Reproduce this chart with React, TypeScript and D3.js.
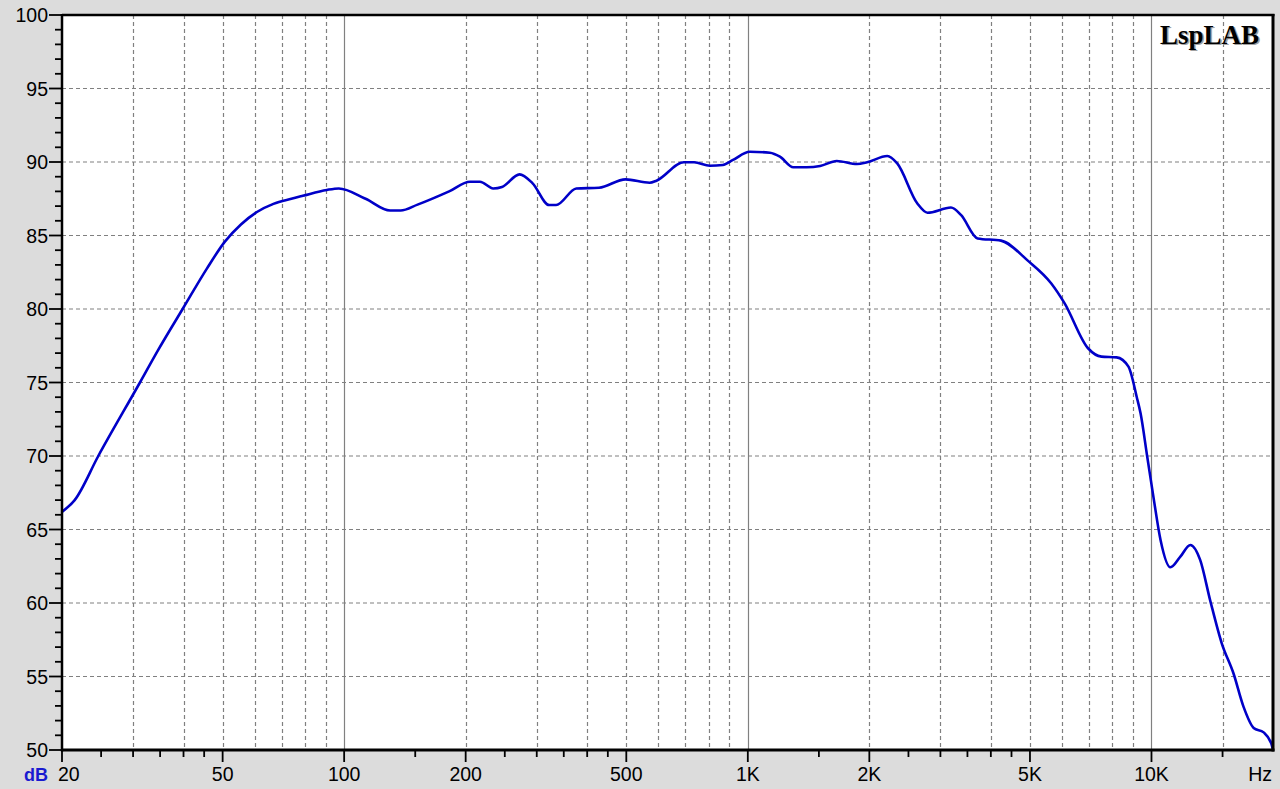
import React from "react";
import * as d3 from "d3";

const FREQ = [20, 21.5, 24.6, 31.2, 34.6, 39.9, 45.7, 50.7, 55.5, 60.8, 66.8, 74, 79, 90.6, 97, 113, 130, 138, 152, 182, 205, 217, 234, 246, 272, 293, 322, 335, 376, 428, 498, 571, 594, 694, 736, 805, 867, 919, 1011, 1134, 1201, 1296, 1399, 1511, 1661, 1864, 1975, 2216, 2345, 2628, 2786, 3186, 3373, 3709, 4239, 4938, 5641, 6088, 6963, 7516, 8196, 8769, 9196, 9396, 9761, 10140, 10530, 11140, 11790, 12480, 13200, 13970, 14930, 15960, 16900, 17910, 18960, 19800, 20000];
const SPL = [66.2, 67.0, 70.0, 75.0, 77.2, 80.05, 82.75, 84.6, 85.75, 86.6, 87.15, 87.5, 87.7, 88.1, 88.2, 87.5, 86.7, 86.7, 87.1, 88.0, 88.66, 88.66, 88.2, 88.3, 89.16, 88.55, 87.07, 87.07, 88.2, 88.25, 88.82, 88.59, 88.73, 89.98, 89.98, 89.75, 89.8, 90.14, 90.7, 90.63, 90.36, 89.64, 89.64, 89.73, 90.07, 89.86, 89.98, 90.41, 89.9, 87.19, 86.55, 86.9, 86.4, 84.8, 84.65, 83.29, 81.75, 80.4, 77.33, 76.76, 76.71, 76.08, 74.0, 72.9, 69.95, 67.0, 64.29, 62.43, 63.15, 63.95, 62.93, 60.2, 57.26, 55.22, 52.95, 51.5, 51.2, 50.45, 50.0];

const X_LABEL_VALUES = [20, 50, 100, 200, 500, 1000, 2000, 5000, 10000];
const X_LABELS = ["20", "50", "100", "200", "500", "1K", "2K", "5K", "10K"];
const X_MINOR_TICKS = [25, 30, 35, 40, 45, 150, 250, 300, 350, 400, 450, 1500, 2500, 3000, 3500, 4000, 4500, 15000];
const X_GRID_DASHED = [30, 40, 50, 60, 70, 80, 90, 200, 300, 400, 500, 600, 700, 800, 900, 2000, 3000, 4000, 5000, 6000, 7000, 8000, 9000, 15000];
const X_GRID_SOLID = [100, 1000, 10000];
const Y_MAJOR = [50, 55, 60, 65, 70, 75, 80, 85, 90, 95, 100];
const Y_MINOR = d3.range(50, 101, 1);

const W = 1280;
const H = 789;
const L = 62;
const R = 1273;
const T = 15;
const B = 750;

export default function App() {
  const x = d3.scaleLog().domain([20, 20000]).range([L, R]);
  const y = d3.scaleLinear().domain([50, 100]).range([B, T]);
  const pts: [number, number][] = FREQ.map((f, i) => [x(f), y(SPL[i])]);
  const line = d3.line().curve(d3.curveMonotoneX)(pts) || "";
  const font = "'Liberation Sans', Arial, sans-serif";
  const grid = "#808080";
  const serif = "'Liberation Serif', 'Times New Roman', serif";

  return (
    <svg
      width={W}
      height={H}
      style={{ position: "fixed", left: 0, top: 0, display: "block" }}
    >
      <rect x={0} y={0} width={W} height={H} fill="#dcdcdc" />
      <rect x={L} y={T} width={R - L} height={B - T} fill="#ffffff" />
      <defs>
        <clipPath id="plot">
          <rect x={L} y={T} width={R - L} height={B - T} />
        </clipPath>
      </defs>
      {Y_MAJOR.filter((v) => v > 50 && v < 100).map((v) => (
        <line key={"hg" + v} x1={L} x2={R} y1={y(v)} y2={y(v)} stroke={grid} strokeWidth={1.2} strokeDasharray="4,3" />
      ))}
      {X_GRID_DASHED.map((v) => (
        <line key={"vg" + v} x1={Math.round(x(v)) + 0.5} x2={Math.round(x(v)) + 0.5} y1={T} y2={B} stroke={grid} strokeWidth={1.2} strokeDasharray="4,3" />
      ))}
      {X_GRID_SOLID.map((v) => (
        <line key={"vs" + v} x1={Math.round(x(v)) + 0.5} x2={Math.round(x(v)) + 0.5} y1={T} y2={B} stroke={grid} strokeWidth={1.2} />
      ))}
      <path d={line} fill="none" stroke="#0000c8" strokeWidth={2.6} strokeLinejoin="round" clipPath="url(#plot)" />
      <line x1={L} x2={R + 1.5} y1={T} y2={T} stroke="#000" strokeWidth={2.5} />
      <line x1={L} x2={L} y1={T - 1} y2={B + 1.5} stroke="#000" strokeWidth={2.5} />
      <line x1={R} x2={R} y1={T - 1} y2={B + 1.5} stroke="#000" strokeWidth={3} />
      <line x1={L - 1} x2={R + 1.5} y1={B} y2={B} stroke="#000" strokeWidth={3} />
      {Y_MINOR.map((v) => (
        <line key={"ym" + v} x1={v % 5 === 0 ? 49 : 55} x2={L} y1={y(v)} y2={y(v)} stroke="#000" strokeWidth={1.8} />
      ))}
      {Y_MAJOR.map((v) => (
        <text key={"yl" + v} x={48} y={y(v)} dy="0.36em" textAnchor="end" fontFamily={font} fontSize={19.5} fill="#000">
          {v}
        </text>
      ))}
      {X_MINOR_TICKS.map((v) => (
        <line key={"xm" + v} x1={x(v)} x2={x(v)} y1={B} y2={B + 7} stroke="#000" strokeWidth={1.8} />
      ))}
      {X_LABEL_VALUES.map((v) => (
        <line key={"xM" + v} x1={x(v)} x2={x(v)} y1={B} y2={B + 12} stroke="#000" strokeWidth={1.8} />
      ))}
      {X_LABEL_VALUES.map((v, i) => (
        <text
          key={"xl" + v}
          x={i === 0 ? 58 : x(v)}
          y={781}
          textAnchor={i === 0 ? "start" : "middle"}
          fontFamily={font}
          fontSize={19.5}
          fill="#000"
        >
          {X_LABELS[i]}
        </text>
      ))}
      <text x={1272} y={781} textAnchor="end" fontFamily={font} fontSize={19.5} fill="#000">
        Hz
      </text>
      <text x={24} y={781} fontFamily={font} fontSize={18} fontWeight="bold" fill="#1a1ad0">
        dB
      </text>
      <text x={1161.5} y={45} fontFamily={serif} fontSize={27} fontWeight="bold" fill="#a0a0a0">
        LspLAB
      </text>
      <text x={1160} y={43.5} fontFamily={serif} fontSize={27} fontWeight="bold" fill="#000">
        LspLAB
      </text>
    </svg>
  );
}
